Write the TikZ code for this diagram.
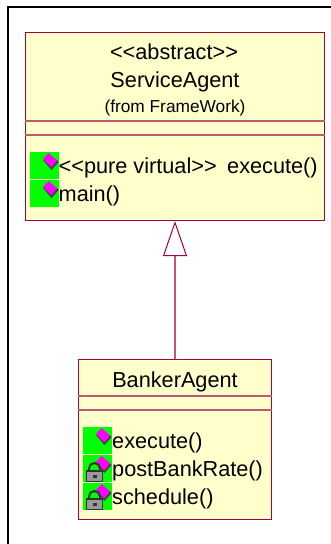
\documentclass[tikz,border=0pt]{standalone}
\usepackage{fontspec}
\setmainfont{Liberation Sans}
\usetikzlibrary{arrows.meta, positioning}

\definecolor{classfill}{HTML}{FFFFCC}
\definecolor{classline}{HTML}{A80036}
\definecolor{sepline}{HTML}{BC5A74}
\definecolor{opgreen}{HTML}{00FF00}
\definecolor{opmagenta}{HTML}{FF00FF}

\begin{document}
\begin{tikzpicture}[
    x=1pt, y=-1pt,
    classbox/.style={rectangle, draw=classline, line width=1.1pt, fill=classfill, anchor=north west, inner sep=0pt},
    sep/.style={draw=sepline, line width=1.1pt},
    iconbox/.style={rectangle, fill=opgreen, anchor=north west, inner sep=0pt, minimum width=28.5pt, minimum height=27pt},
    title/.style={anchor=base, inner sep=0pt, font=\fontsize{21.7}{24}\selectfont},
    member/.style={anchor=base west, inner sep=0pt, font=\fontsize{21.7}{24}\selectfont},
    realize/.style={draw=sepline, line width=1.4pt, -{Triangle[open, length=35pt, width=24pt, line width=1pt, color=classline]}},
    opdiamond/.pic={
        \fill[black!75] (13,8) -- (21.5,18) -- (28.5,10) -- (27,8) -- cycle;
        \fill[opmagenta] (18.7,1) -- (27,8.5) -- (21.5,15.5) -- (13,7) -- cycle;
    },
    oplock/.pic={
        \draw[black!80, line width=2pt] (6,16) -- (6,13.5) arc[start angle=180, end angle=0, x radius=5.5pt, y radius=5.5pt] -- (17,16);
        \fill[black!80] (2.5,15) rectangle (20,27);
        \fill[black!40] (4,17) rectangle (18.5,25.5);
        \fill[black!80] (9.5,20) rectangle (13.5,22.5);
    }
]
    % Frame
    \coordinate (framebottom) at (8,544);
    \coordinate (frameright) at (331,7);
    \useasboundingbox (0,0) rectangle (331,544);
    \draw[black, line width=2pt] (framebottom) |- (frameright);

    % ServiceAgent
    \node[classbox, minimum width=299pt, minimum height=188pt] (service) at (25,32) {};
    \node[title] (abstract) at (174,59) {<{}<abstract>{}>};
    \node[title] (servicename) at (175,87) {ServiceAgent};
    \node[title, font=\fontsize{17.3}{20}\selectfont] (from) at (175,112) {(from FrameWork)};
    \draw[sep] (service.west |- 0,121) -- (service.east |- 0,121);
    \draw[sep] (service.west |- 0,135) -- (service.east |- 0,135);

    % ServiceAgent operations
    \node[iconbox] (icon1) at (30,152) {};
    \node[iconbox] (icon2) at (30,180) {};
    \pic at (icon1.north west) {opdiamond};
    \pic at (icon2.north west) {opdiamond};
    \node[member] (execute1) at (58.5,173) {<{}<pure virtual>{}>\hspace{4.5pt} execute()};
    \node[member] (main) at (58.5,201) {main()};

    % BankerAgent
    \node[classbox, minimum width=193pt, minimum height=160pt] (banker) at (78,359) {};
    \node[title] (bankername) at (175,387) {BankerAgent};
    \draw[sep] (banker.west |- 0,396) -- (banker.east |- 0,396);
    \draw[sep] (banker.west |- 0,410) -- (banker.east |- 0,410);

    % BankerAgent operations
    \node[iconbox] (icon3) at (83,427) {};
    \node[iconbox] (icon4) at (83,455) {};
    \node[iconbox] (icon5) at (83,483) {};
    \pic at (icon3.north west) {opdiamond};
    \pic at (icon4.north west) {opdiamond};
    \pic at (icon5.north west) {opdiamond};
    \pic at (icon4.north west) {oplock};
    \pic at (icon5.north west) {oplock};
    \node[member] (execute2) at (112,448) {execute()};
    \node[member] (post) at (112,476) {postBankRate()};
    \node[member] (schedule) at (112,504) {schedule()};

    % Arrows
    \draw[realize] (banker.north -| 175,0) -- (service.south -| 175,0);

\end{tikzpicture}
\end{document}
